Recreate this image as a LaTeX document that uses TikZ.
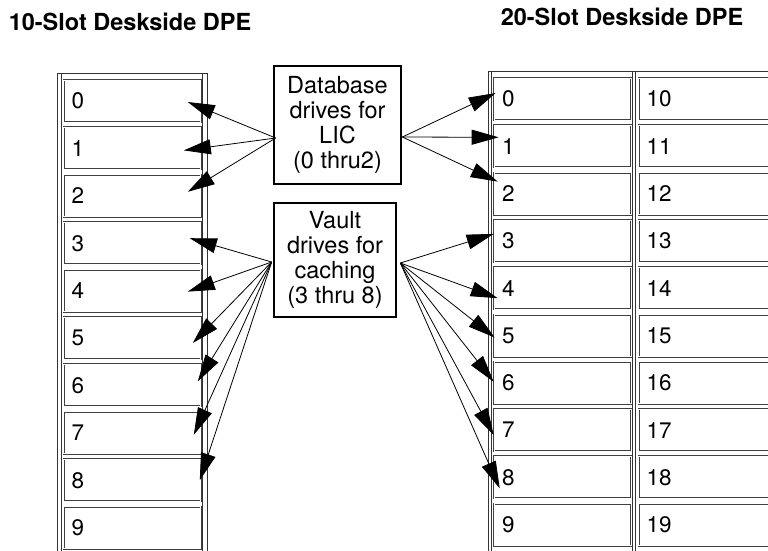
\documentclass[tikz,border=0pt]{standalone}
\usepackage{fontspec}
\setmainfont{TeX Gyre Heros}
\usetikzlibrary{arrows.meta}

\tikzset{
  slot/.style={draw=black!75, double=white, double distance=0.8pt, line width=0.6pt,
    minimum width=137pt, minimum height=42pt, text width=121pt, align=left,
    inner xsep=8pt, font=\fontsize{22.5}{26}\selectfont},
  chassis/.style={draw=black!80, line width=0.7pt},
  drivebox/.style={draw, line width=2.7pt, align=center, inner sep=0pt,
    font=\fontsize{23.5}{25}\selectfont},
  title/.style={font=\bfseries\fontsize{23.5}{28}\selectfont},
  link/.style={-{Triangle[length=27pt,width=15pt]}, line width=0.8pt}
}

\begin{document}
\begin{tikzpicture}[x=1pt,y=-1pt]

	\useasboundingbox (0,0) rectangle (768,550);
	\clip (0,0) rectangle (768,550);

	% Titles
	\node[title] (t10) at (130,22) {10-Slot Deskside DPE};
	\node[title] (t20) at (622,17) {20-Slot Deskside DPE};

	% 10-slot chassis
	\draw[chassis] (57,560) -- (57,73) -- (207,73) -- (207,560);
	\draw[chassis] (61,73) -- (61,560);
	\draw[chassis] (202,73) -- (202,560);
	\foreach \i in {0,...,9}
		\node[slot] (l\i) at (132,101+47.4*\i) {\i};

	% 20-slot chassis
	\draw[chassis] (488,560) -- (488,71) -- (790,71);
	\draw[chassis] (491,71) -- (491,560);
	\draw[chassis] (632.5,71) -- (632.5,560);
	\draw[chassis] (635.5,71) -- (635.5,560);
	\foreach \i in {0,...,9} {
		\node[slot] (r\i) at (562.5,99+47.3*\i) {\i};
		\node[slot] (r1\i) at (707,99+47.3*\i) {1\i};
	}

	% Boxes
	\node[drivebox, minimum width=127pt, minimum height=118pt] (db) at (337.5,125)
		{Database\\drives for\\LIC\\(0 thru2)};
	\node[drivebox, minimum width=122pt, minimum height=114pt] (vault) at (335,260)
		{Vault\\drives for\\caching\\(3 thru 8)};

	% Database drives, left
	\draw[link] ([xshift=3pt,yshift=-13pt]db.west) -- ([xshift=-13pt,yshift=-1pt]l0.east);
	\draw[link] ([xshift=3pt,yshift=-13pt]db.west) -- ([xshift=-17pt,yshift=-2pt]l1.east);
	\draw[link] ([xshift=3pt,yshift=-13pt]db.west) -- ([xshift=-13pt,yshift=4pt]l2.east);

	% Database drives, right
	\draw[link] ([yshift=-12pt]db.east) -- ([xshift=2pt,yshift=6pt]r0.west);
	\draw[link] ([yshift=-12pt]db.east) -- ([xshift=5pt,yshift=9pt]r1.west);
	\draw[link] ([yshift=-12pt]db.east) -- ([xshift=4pt,yshift=12pt]r2.west);

	% Vault drives, left
	\draw[link] ([xshift=-1pt,yshift=-2pt]vault.west) -- ([xshift=-11pt,yshift=5pt]l3.east);
	\draw[link] ([xshift=-1pt,yshift=-2pt]vault.west) -- ([xshift=-13pt,yshift=-1pt]l4.east);
	\draw[link] ([xshift=-1pt,yshift=-2pt]vault.west) -- ([xshift=-8pt,yshift=-5pt]l5.east);
	\draw[link] ([xshift=-1pt,yshift=-2pt]vault.west) -- ([xshift=-3pt,yshift=4pt]l6.east);
	\draw[link] ([xshift=-1pt,yshift=-2pt]vault.west) -- ([xshift=-7pt,yshift=-2pt]l7.east);
	\draw[link] ([xshift=-1pt,yshift=-2pt]vault.west) -- ([xshift=-1pt]l8.east);

	% Vault drives, right
	\draw[link] ([xshift=3pt,yshift=-3pt]vault.east) -- ([yshift=7pt]r3.west);
	\draw[link] ([xshift=3pt,yshift=-3pt]vault.east) -- ([xshift=4pt,yshift=-10pt]r4.west);
	\draw[link] ([xshift=3pt,yshift=-3pt]vault.east) -- ([xshift=1pt,yshift=-2pt]r5.west);
	\draw[link] ([xshift=3pt,yshift=-3pt]vault.east) -- ([yshift=1pt]r6.west);
	\draw[link] ([xshift=3pt,yshift=-3pt]vault.east) -- ([yshift=-5pt]r7.west);
	\draw[link] ([xshift=3pt,yshift=-3pt]vault.east) -- ([xshift=6pt,yshift=-11pt]r8.west);

\end{tikzpicture}
\end{document}
